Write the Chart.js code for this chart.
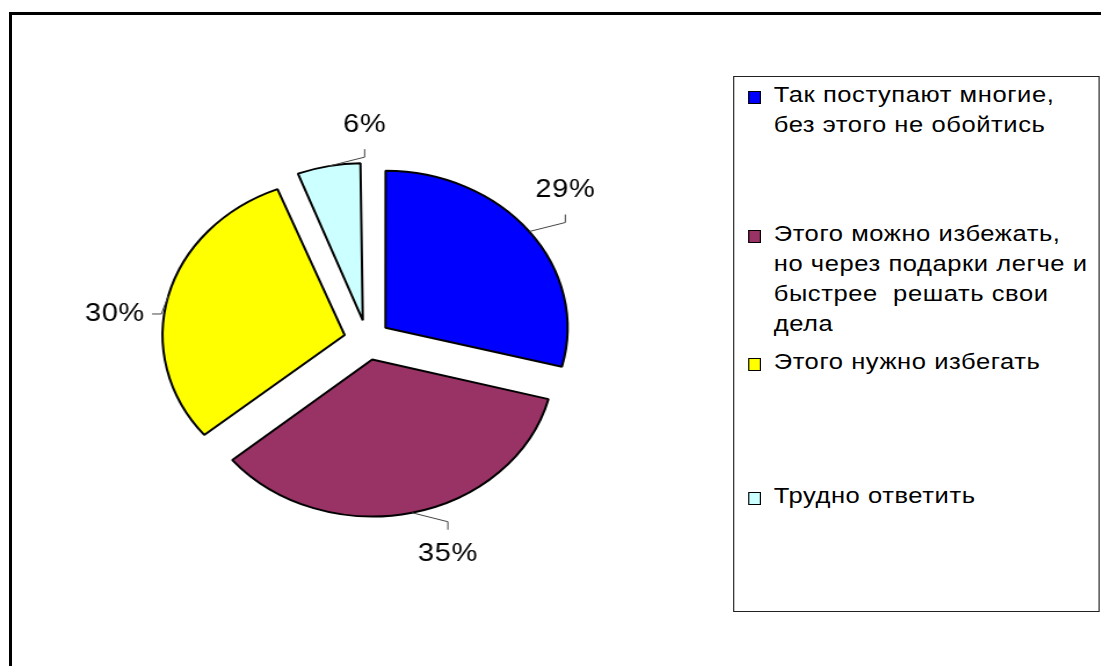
<!DOCTYPE html>
<html>
<head>
<meta charset="utf-8">
<script src="https://cdn.jsdelivr.net/npm/chart.js@4"></script>
<style>
  body { margin: 0; background: #fff; overflow: hidden; }
  #frame { position: absolute; left: 9px; top: 12px; width: 1200px; height: 800px; border: 3px solid #000; }
  /* the original picture is stretched sideways, so the whole stage is too */
  #stage { position: absolute; left: 0; top: 0; width: 949px; height: 666px; transform: scaleX(1.16); transform-origin: 0 0; }
  #pie { position: absolute; left: 0; top: 0; }
  #legend {
    position: absolute; left: 632px; top: 76px; width: 316px; height: 536px;
    border: 1px solid #222; box-sizing: border-box; background: #fff;
    display: grid; grid-template-rows: repeat(4, 1fr);
    font: 22px "Liberation Sans", Arial, sans-serif; color: #000; letter-spacing: 0.5px;
  }
  .item { position: relative; padding: 3px 0 0 34px; line-height: 30px; white-space: pre; }
  .sw { position: absolute; left: 12px; top: 14px; width: 11px; height: 13px; border: 1.5px solid #000; box-sizing: border-box; }
</style>
</head>
<body>
<div id="frame"></div>
<div id="stage">
  <canvas id="pie" width="949" height="666"></canvas>
  <div id="legend"></div>
</div>
<script>
const labels = [
  ['Так поступают многие,', 'без этого не обойтись'],
  ['Этого можно избежать,', 'но через подарки легче и', 'быстрее  решать свои', 'дела'],
  ['Этого нужно избегать'],
  ['Трудно ответить']
];
const values = [29, 35, 30, 6];
const colors = ['#0000FF', '#993366', '#FFFF00', '#CCFFFF'];

const RADIUS = 157;
const EXPLODE = 80; // chart.js moves a slice by offset / 4

// chart.js also grows narrow exploded slices; undo that so all share one radius
const keepRadius = {
  id: 'keepRadius',
  beforeDatasetsDraw(chart) {
    chart.getDatasetMeta(0).data.forEach(arc => {
      const circ = arc.endAngle - arc.startAngle;
      const fix = 1 - Math.sin(Math.min(Math.PI, circ));
      arc.outerRadius = RADIUS - EXPLODE / 4 * fix;
    });
  }
};

const pctLabels = {
  id: 'pctLabels',
  afterDatasetsDraw(chart) {
    const ctx = chart.ctx;
    const arcs = chart.getDatasetMeta(0).data;
    const total = values.reduce((a, b) => a + b, 0);
    ctx.save();
    ctx.font = '25px "Liberation Sans", Arial, sans-serif';
    ctx.letterSpacing = '0.5px';
    ctx.fillStyle = '#000';
    ctx.strokeStyle = '#444';
    ctx.lineWidth = 1;
    ctx.textAlign = 'center';
    ctx.textBaseline = 'middle';
    arcs.forEach((arc, i) => {
      const mid = (arc.startAngle + arc.endAngle) / 2;
      const c = Math.cos(mid), s = Math.sin(mid);
      const ax = arc.x + c * (EXPLODE / 4 + RADIUS);
      const ay = arc.y + s * (EXPLODE / 4 + RADIUS);
      let lx, ly, pts;
      if (Math.abs(c) > 0.9) {
        const dir = Math.sign(c);
        lx = ax + dir * 46; ly = ay + 18;
        pts = [[lx - dir * 40, ly], [lx - dir * 32, ly]];
      } else {
        const dir = Math.sign(s);
        lx = ax + 31; ly = ay + dir * 41;
        pts = [[lx, ly - dir * 32], [lx, ly - dir * 24]];
      }
      ctx.beginPath();
      ctx.moveTo(ax, ay);
      pts.forEach(p => ctx.lineTo(p[0], p[1]));
      ctx.stroke();
      ctx.fillText(Math.round(values[i] / total * 100) + '%', lx, ly);
    });
    ctx.restore();
  }
};

new Chart(document.getElementById('pie'), {
  type: 'pie',
  data: {
    labels: labels,
    datasets: [{
      data: values,
      backgroundColor: colors,
      borderColor: '#000',
      borderWidth: 2,
      offset: EXPLODE,
      radius: RADIUS
    }]
  },
  options: {
    responsive: false,
    animation: false,
    events: [],
    layout: { padding: { left: 0, right: 316, top: 14, bottom: 0 } },
    plugins: {
      legend: { display: false },
      tooltip: { enabled: false }
    }
  },
  plugins: [keepRadius, pctLabels]
});

const legend = document.getElementById('legend');
labels.forEach((lines, i) => {
  const item = document.createElement('div');
  item.className = 'item';
  if (i === 1) item.style.paddingTop = '8px';
  const sw = document.createElement('span');
  sw.className = 'sw';
  if (i === 1) sw.style.top = '19px';
  sw.style.background = colors[i];
  item.appendChild(sw);
  item.appendChild(document.createTextNode(lines.join('\n')));
  legend.appendChild(item);
});
</script>
</body>
</html>
